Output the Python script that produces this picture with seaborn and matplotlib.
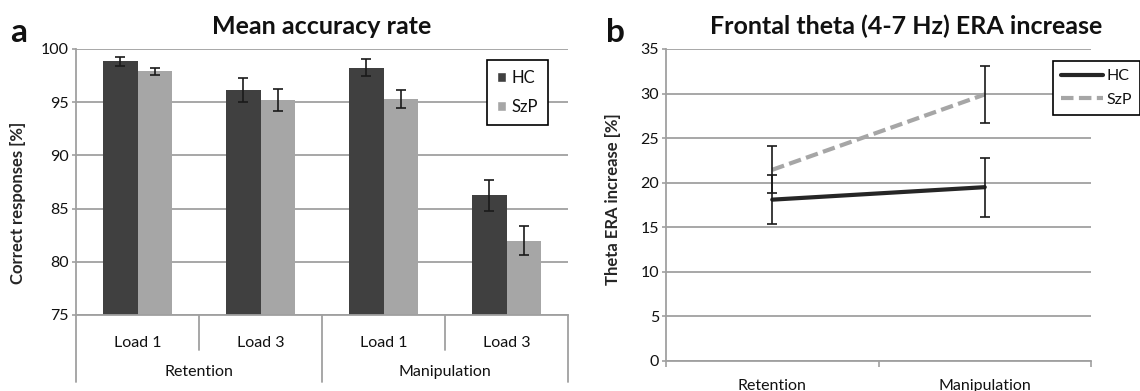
import pandas as pd
import matplotlib.pyplot as plt
import matplotlib.transforms as mtrans
from matplotlib.lines import Line2D
from matplotlib.patches import Patch
import seaborn as sns

# panel a: mean accuracy rate
tasks = ["Retention", "Retention", "Manipulation", "Manipulation"]
loads = ["Load 1", "Load 3", "Load 1", "Load 3"]
acc_hc = [98.85, 96.15, 98.25, 86.25]
acc_szp = [97.9, 95.2, 95.3, 82.0]
acc_err_hc = [0.43, 1.1, 0.8, 1.47]
acc_err_szp = [0.36, 1.03, 0.8, 1.4]

# panel b: frontal theta ERA increase
conditions = ["Retention", "Manipulation"]
era_hc = [18.1, 19.5]
era_szp = [21.45, 29.9]
era_err_hc = [2.75, 3.3]
era_err_szp = [2.65, 3.2]

groups = ["HC", "SzP"]
bar_colors = {"HC": "#404040", "SzP": "#a6a6a6"}
line_colors = {"HC": "#262626", "SzP": "#a6a6a6"}
grid_c = "#a0a0a0"

keys = [t + " " + l for t, l in zip(tasks, loads)]
df_acc = pd.DataFrame({
    "cond": keys * 2,
    "group": ["HC"] * 4 + ["SzP"] * 4,
    "acc": acc_hc + acc_szp,
})
df_era = pd.DataFrame({
    "condition": conditions * 2,
    "group": ["HC"] * 2 + ["SzP"] * 2,
    "era": era_hc + era_szp,
})

sns.set_style("white")
plt.rcParams['font.family'] = ['Lato', 'DejaVu Sans']
plt.rcParams['text.color'] = '#111111'
plt.rcParams['xtick.color'] = grid_c
plt.rcParams['ytick.color'] = grid_c
plt.rcParams['xtick.labelcolor'] = '#111111'
plt.rcParams['ytick.labelcolor'] = '#111111'

W, H = 1140, 391
fig = plt.figure(figsize=(W / 100, H / 100), dpi=100)
ax1 = fig.add_axes([76 / W, 1 - 315 / H, 492 / W, 266 / H])
ax2 = fig.add_axes([666 / W, 1 - 361 / H, 425 / W, 312 / H])

# ---- panel a ----
sns.barplot(data=df_acc, x="cond", y="acc", hue="group", palette=bar_colors,
            width=0.56, errorbar=None, saturation=1, linewidth=0,
            legend=False, ax=ax1)
for cont, errs in zip(ax1.containers, [acc_err_hc, acc_err_szp]):
    xs = [b.get_x() + b.get_width() / 2 for b in cont]
    ys = [b.get_height() for b in cont]
    ax1.errorbar(xs, ys, yerr=errs, fmt='none', ecolor='#1a1a1a',
                 elinewidth=1.2, capsize=3.3, capthick=1.2, zorder=5)

ax1.set_ylim(75, 100)
ax1.set_xlim(-0.5, 3.5)
ax1.set_yticks(range(75, 101, 5))
ax1.set_xticks(range(4))
ax1.set_xticklabels(loads)
ax1.tick_params(axis='x', length=0, pad=15, labelsize=11.5)
ax1.tick_params(axis='y', length=3, width=1.2, pad=2, labelsize=11.5, left=True)
ax1.yaxis.grid(True, color=grid_c, lw=1.3)
ax1.set_axisbelow(True)
for s in ["top", "right"]:
    ax1.spines[s].set_visible(False)
for s in ["left", "bottom"]:
    ax1.spines[s].set_color(grid_c)
    ax1.spines[s].set_linewidth(1.3)
ax1.set_xlabel("")
ax1.set_ylabel("Correct responses [%]", fontsize=12, fontweight='bold')
ax1.yaxis.set_label_coords(-0.102, 0.42)

trans = mtrans.blended_transform_factory(ax1.transData, ax1.transAxes)
for x in [0.5, 2.5]:
    ax1.plot([x, x], [0, -0.132], transform=trans, clip_on=False, color=grid_c, lw=1.3)
for x in [-0.5, 1.5, 3.5]:
    ax1.plot([x, x], [0, -0.252], transform=trans, clip_on=False, color=grid_c, lw=1.3)
for task, xc in [("Retention", 0.5), ("Manipulation", 2.5)]:
    ax1.text(xc, -0.214, task, transform=trans, ha='center', va='center', fontsize=11.5)

leg1 = ax1.legend(handles=[Patch(facecolor=bar_colors[g], label=g) for g in groups],
                  loc='upper left', bbox_to_anchor=(487 / W, 1 - 60 / H),
                  bbox_transform=fig.transFigure, fancybox=False, edgecolor='black',
                  framealpha=1, handlelength=0.55, handleheight=0.55, handletextpad=0.3,
                  labelspacing=0.8, borderpad=0.6, borderaxespad=0, fontsize=12)
leg1.get_frame().set_linewidth(1.2)

# ---- panel b ----
sns.lineplot(data=df_era, x="condition", y="era", hue="group", style="group",
             palette=line_colors, dashes={"HC": "", "SzP": (3, 1.3)},
             linewidth=3, sort=False, legend=False, ax=ax2)
for vals, errs in [(era_hc, era_err_hc), (era_szp, era_err_szp)]:
    ax2.errorbar(conditions, vals, yerr=errs, fmt='none', ecolor='#1a1a1a',
                 elinewidth=1.2, capsize=3.3, capthick=1.2, zorder=5)

ax2.set_ylim(0, 35)
ax2.set_xlim(-0.5, 1.5)
ax2.set_yticks(range(0, 36, 5))
ax2.set_xticks([0, 1])
ax2.set_xticklabels(conditions)
ax2.set_xticks([-0.5, 0.5, 1.5], minor=True)
ax2.tick_params(axis='x', which='major', length=0, pad=13, labelsize=11.5)
ax2.tick_params(axis='x', which='minor', length=4, width=1.2, bottom=True)
ax2.tick_params(axis='y', length=3, width=1.2, pad=2, labelsize=11.5, left=True)
ax2.yaxis.grid(True, color=grid_c, lw=1.3)
ax2.set_axisbelow(True)
for s in ["top", "right"]:
    ax2.spines[s].set_visible(False)
for s in ["left", "bottom"]:
    ax2.spines[s].set_color(grid_c)
    ax2.spines[s].set_linewidth(1.3)
ax2.set_xlabel("")
ax2.set_ylabel("Theta ERA increase [%]", fontsize=12, fontweight='bold')
ax2.yaxis.set_label_coords(-0.106, 0.52)

line_handles = [
    Line2D([], [], color=line_colors["HC"], lw=3, label="HC"),
    Line2D([], [], color=line_colors["SzP"], lw=3, ls=(0, (3, 1.3)), label="SzP"),
]
leg2 = ax2.legend(handles=line_handles, loc='upper left',
                  bbox_to_anchor=(1053 / W, 1 - 61 / H), bbox_transform=fig.transFigure,
                  fancybox=False, edgecolor='black', framealpha=1, handlelength=2.6,
                  handletextpad=0.25, labelspacing=0.6, borderpad=0.5, borderaxespad=0,
                  fontsize=11.5)
leg2.get_frame().set_linewidth(1.2)

# titles and panel letters
fig.text(322 / W, 1 - 26 / H, "Mean accuracy rate", ha='center', va='center',
         fontsize=18, fontweight='bold')
fig.text(906 / W, 1 - 26 / H, "Frontal theta (4-7 Hz) ERA increase", ha='center',
         va='center', fontsize=18, fontweight='bold')
fig.text(10 / W, 1 - 42 / H, "a", ha='left', va='baseline', fontsize=24, fontweight='bold')
fig.text(606 / W, 1 - 42 / H, "b", ha='left', va='baseline', fontsize=24, fontweight='bold')

fig.savefig("out.png", dpi=100)
